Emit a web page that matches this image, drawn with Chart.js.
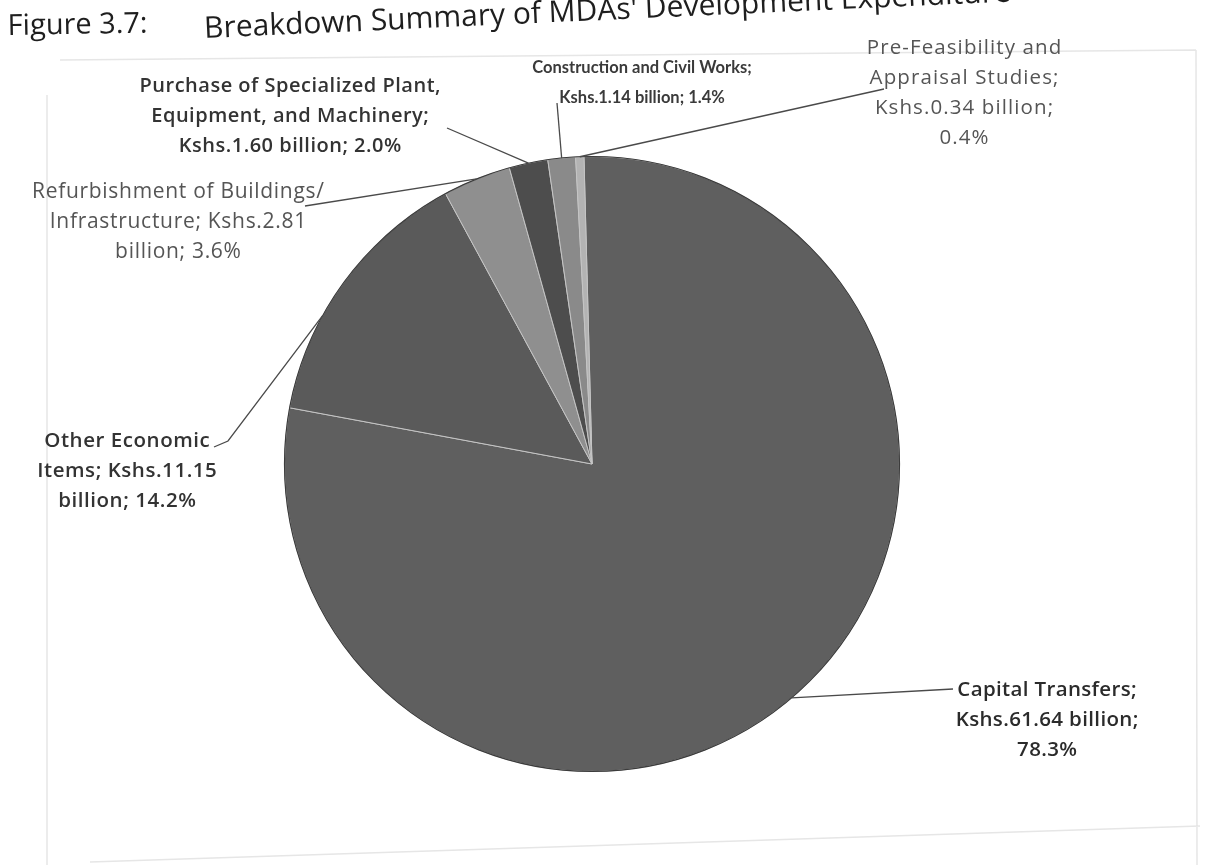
<!DOCTYPE html>
<html>
<head>
<meta charset="utf-8">
<title>Figure 3.7</title>
<script src="https://cdn.jsdelivr.net/npm/chart.js@4.4.1/dist/chart.umd.min.js"></script>
<style>
  body { margin: 0; background: #fff; }
  #wrap { position: relative; width: 1210px; height: 865px; overflow: hidden; }
  .fig { position: absolute; font-family: "Open Sans", sans-serif; color: #1e1e1e; white-space: nowrap; transform-origin: left bottom; }
  #figNo { left: 8px; top: 4px; font-size: 29px; transform: rotate(-1deg); }
  #figTitle { left: 205px; top: 6px; font-size: 30px; transform: rotate(-2.6deg); }
</style>
</head>
<body>
<div id="wrap">
  <canvas id="myChart" width="1210" height="865"></canvas>
  <div class="fig" id="figNo">Figure 3.7:</div>
  <div class="fig" id="figTitle">Breakdown Summary of MDAs' Development Expenditure</div>
</div>

<script>
// development expenditure by economic item, Kshs billion
const categories = [
  'Capital Transfers',
  'Other Economic Items',
  'Refurbishment of Buildings/ Infrastructure',
  'Purchase of Specialized Plant, Equipment, and Machinery',
  'Construction and Civil Works',
  'Pre-Feasibility and Appraisal Studies'
];
const values = [61.64, 11.15, 2.81, 1.60, 1.14, 0.34];

const total = values.reduce((a, b) => a + b, 0);
const percents = values.map(v => (v / total * 100).toFixed(1));

// where each slice label sits, how many words go on each line, leader start
const labelLayout = [
  { x: 1047, y: 690, font: '600 20.5px "Open Sans"', ls: 0.35, color: '#2b2b2b', words: [2, 2, 1], lead: [[953, 689]], at: 0.5 },
  { x: 127, y: 441, font: '600 20.5px "Open Sans"', ls: 0.55, color: '#333', words: [2, 2, 2], lead: [[214, 447], [228, 441]], at: 0.36 },
  { x: 178, y: 192, font: 'normal 21px "Open Sans"', ls: 0.7, color: '#555', words: [3, 2, 2], lead: [[305, 206]], at: 0.5 },
  { x: 290, y: 86, font: '600 20px "Open Sans"', ls: 0.5, color: '#333', words: [4, 3, 3], lead: [[447, 128]], at: 0.5 },
  { x: 642, y: 68, font: 'bold 16.5px Lato', ls: 0, color: '#3a3a3a', words: [4, 3], lead: [[557, 103]], at: 0.5 },
  { x: 964, y: 48, font: 'normal 20.5px "Open Sans"', ls: 1.1, color: '#555', words: [2, 2, 2, 1], lead: [[884, 89]], at: 0.5 }
];

const sliceLabels = {
  id: 'sliceLabels',
  beforeDraw(chart) {
    // faint page frame
    const c = chart.ctx;
    c.save();
    c.strokeStyle = '#e6e6e6';
    c.lineWidth = 1.5;
    c.beginPath();
    c.moveTo(47, 95); c.lineTo(47, 865);
    c.moveTo(60, 60); c.lineTo(1196, 50);
    c.moveTo(1196, 50); c.lineTo(1197, 865);
    c.moveTo(90, 862); c.lineTo(1200, 826);
    c.stroke();
    c.restore();
  },
  afterDatasetsDraw(chart) {
    const c = chart.ctx;
    const arcs = chart.getDatasetMeta(0).data;
    c.save();
    // dark rim round the pie
    const a0 = arcs[0];
    c.strokeStyle = '#3c3c3c';
    c.lineWidth = 1.2;
    c.beginPath();
    c.arc(a0.x, a0.y, a0.outerRadius, 0, Math.PI * 2);
    c.stroke();

    labelLayout.forEach((L, i) => {
      const arc = arcs[i];
      const ang = arc.startAngle + (arc.endAngle - arc.startAngle) * L.at;
      const ex = arc.x + Math.cos(ang) * arc.outerRadius;
      const ey = arc.y + Math.sin(ang) * arc.outerRadius;

      // leader line
      c.strokeStyle = '#4a4a4a';
      c.lineWidth = 1.3;
      c.beginPath();
      c.moveTo(L.lead[0][0], L.lead[0][1]);
      L.lead.slice(1).forEach(p => c.lineTo(p[0], p[1]));
      c.lineTo(ex, ey);
      c.stroke();

      // label text, split into lines by word count
      const text = categories[i] + '; Kshs.' + values[i].toFixed(2) + ' billion; ' + percents[i] + '%';
      const words = text.split(' ');
      const lines = [];
      let k = 0;
      L.words.forEach(n => { lines.push(words.slice(k, k + n).join(' ')); k += n; });
      c.font = L.font;
      c.letterSpacing = L.ls + 'px';
      c.fillStyle = L.color;
      c.textAlign = 'center';
      c.textBaseline = 'middle';
      lines.forEach((ln, j) => c.fillText(ln, L.x + L.ls / 2, L.y + j * 30));
    });
    c.restore();
  }
};

const myChart = new Chart(document.getElementById('myChart'), {
  type: 'pie',
  data: {
    labels: categories,
    datasets: [{
      data: values,
      backgroundColor: ['#5f5f5f', '#5a5a5a', '#8f8f8f', '#4d4d4d', '#8a8a8a', '#b3b3b3'],
      borderColor: '#c4c4c4',
      borderWidth: 1
    }]
  },
  options: {
    responsive: false,
    animation: false,
    rotation: -1.5,
    layout: { padding: { top: 156, bottom: 93, left: 284, right: 310 } },
    plugins: {
      legend: { display: false },
      tooltip: { enabled: false }
    }
  },
  plugins: [sliceLabels]
});
</script>
</body>
</html>
